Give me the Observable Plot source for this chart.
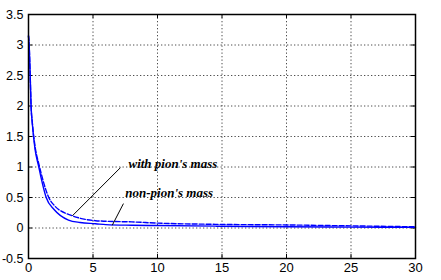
<!DOCTYPE html>
<html><head><meta charset="utf-8">
<script src="https://cdn.jsdelivr.net/npm/d3@7"></script>
<script src="https://cdn.jsdelivr.net/npm/@observablehq/plot@0.6"></script>
<style>body{margin:0;background:#fff}</style>
</head><body><div id="chart"></div>
<script>
const xTicks = [0, 5, 10, 15, 20, 25, 30];
const yTicks = [-0.5, 0, 0.5, 1, 1.5, 2, 2.5, 3, 3.5];

const nonPionX = [0, 0.05, 0.13, 0.2, 0.3, 0.5, 0.8, 1.0, 1.37, 2, 3.1, 4, 5.2, 6, 8, 10, 14.5, 20, 25, 30];
const nonPionY = [3.15, 3.0, 2.5, 2.0, 1.7, 1.3, 1.0, 0.8, 0.5, 0.3, 0.13, 0.09, 0.07, 0.055, 0.045, 0.04, 0.03, 0.02, 0.015, 0.01];
const withPionX = [0, 0.05, 0.13, 0.2, 0.3, 0.5, 0.8, 1.0, 1.57, 2, 3.4, 4, 5.2, 6, 8, 10, 14.5, 20, 25, 30];
const withPionY = [3.15, 3.0, 2.5, 2.0, 1.72, 1.35, 1.05, 0.88, 0.5, 0.37, 0.2, 0.16, 0.12, 0.11, 0.1, 0.08, 0.06, 0.05, 0.035, 0.02];

const labels = ["with pion's mass", "non-pion's mass"];
const labelX = [7.75, 7.5];
const labelY = [1.06, 0.58];
const pointerX1 = [7.13, 7.36];
const pointerY1 = [0.99, 0.4];
const pointerX2 = [3.4, 6.49];
const pointerY2 = [0.2, 0.044];

const nonPion = nonPionX.map((x, i) => ({x, y: nonPionY[i]}));
const withPion = withPionX.map((x, i) => ({x, y: withPionY[i]}));
const ann = labels.map((t, i) => ({t, x: labelX[i], y: labelY[i], x1: pointerX1[i], y1: pointerY1[i], x2: pointerX2[i], y2: pointerY2[i]}));

const tl = 0.065, tlx = 0.32;
const fmt = d => String(d);
const chart = Plot.plot({
  width: 441, height: 280,
  marginLeft: 28, marginRight: 26, marginTop: 14, marginBottom: 22,
  style: {fontFamily: "Liberation Sans, Arial, sans-serif", fontSize: "12px", color: "#000", background: "#fff"},
  x: {domain: [0, 30], ticks: xTicks},
  y: {domain: [-0.5, 3.5], ticks: yTicks},
  marks: [
    Plot.gridX(xTicks.slice(1, -1), {stroke: "#000", strokeOpacity: 0.7, strokeDasharray: "1.3,2.2"}),
    Plot.gridY(yTicks.slice(1, -1), {stroke: "#000", strokeOpacity: 0.7, strokeDasharray: "1.3,2.2"}),
    Plot.ruleX(xTicks, {y1: -0.5, y2: -0.5 + tl, stroke: "#000"}),
    Plot.ruleX(xTicks, {y1: 3.5, y2: 3.5 - tl, stroke: "#000"}),
    Plot.ruleY(yTicks, {x1: 0, x2: tlx, stroke: "#000"}),
    Plot.ruleY(yTicks, {x1: 30, x2: 30 - tlx, stroke: "#000"}),
    Plot.axisX(xTicks, {tickSize: 0, tickPadding: 4, fontSize: 13, tickFormat: fmt, label: null}),
    Plot.axisY(yTicks, {tickSize: 0, tickPadding: 5, fontSize: 12.5, tickFormat: fmt, label: null}),
    Plot.line(withPion, {x: "x", y: "y", stroke: "#0000ff", strokeWidth: 1.4, strokeDasharray: "5,2", curve: "monotone-x"}),
    Plot.line(nonPion, {x: "x", y: "y", stroke: "#0000ff", strokeWidth: 1.4, curve: "monotone-x"}),
    Plot.link(ann, {x1: "x1", y1: "y1", x2: "x2", y2: "y2", stroke: "#000", strokeWidth: 1}),
    Plot.text(ann, {x: "x", y: "y", text: "t", textAnchor: "start", fontFamily: "Liberation Serif, Times New Roman, serif", fontStyle: "italic", fontWeight: "bold", fontSize: 13}),
    Plot.frame({stroke: "#000", strokeWidth: 1.5})
  ]
});
document.getElementById("chart").append(chart);
</script>
</body></html>
